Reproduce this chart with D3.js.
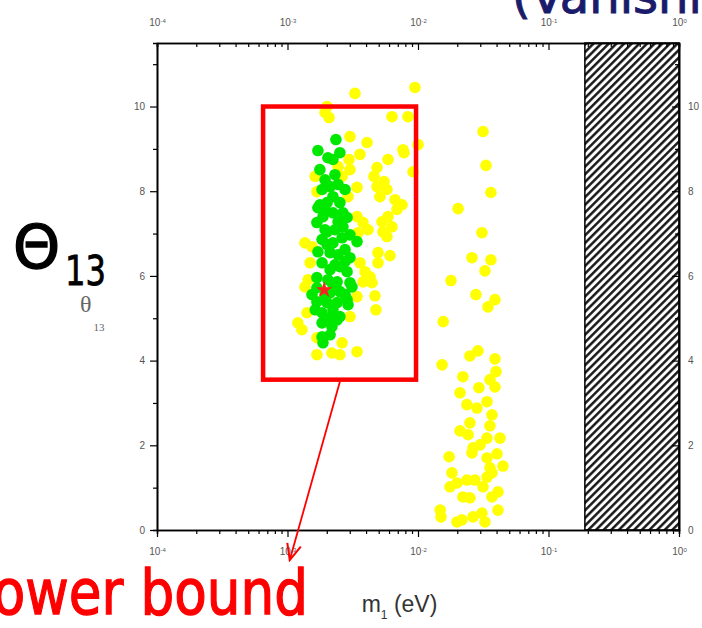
<!DOCTYPE html>
<meta charset="utf-8">
<script src="https://d3js.org/d3.v7.min.js"></script>
<style>
  body { margin: 0; background: #fff; overflow: hidden; }
  svg { display: block; }
</style>

<div id="my_dataviz"></div>

<script>

// m1 (eV) and theta13 (deg) of the allowed points
var yellowM1 = [
  3.29e-3, 9.48e-3, 2.01e-3, 1.94e-3, 2.08e-3, 6.32e-3, 8.38e-3, 3.01e-3, 4.07e-3, 7.67e-3,
  1.00e-2, 7.81e-3, 3.59e-3, 2.96e-3, 3.01e-3, 2.44e-3, 2.62e-3, 5.89e-3, 4.85e-3, 4.60e-3,
  5.49e-3, 9.16e-3, 1.63e-3, 3.41e-3, 4.85e-3, 5.11e-3, 5.78e-3, 1.68e-3, 2.91e-3, 6.67e-3,
  7.54e-3, 6.90e-3, 5.89e-3, 5.30e-3, 6.32e-3, 5.78e-3, 5.39e-3, 3.41e-3, 3.79e-3, 4.14e-3,
  3.47e-3, 1.36e-3, 1.54e-3, 4.94e-3, 6.10e-3, 4.94e-3, 1.49e-3, 3.59e-3, 3.93e-3, 4.29e-3,
  4.44e-3, 3.79e-3, 1.44e-3, 1.36e-3, 4.68e-3, 3.41e-3, 4.76e-3, 3.01e-3, 1.20e-3, 1.29e-3,
  1.41e-3, 1.68e-3, 1.68e-3, 2.19e-3, 2.52e-3, 2.62e-3, 3.41e-3,
  3.15e-2, 3.32e-2, 3.62e-2, 2.03e-2, 3.09e-2, 2.59e-2, 3.62e-2, 3.26e-2, 1.79e-2, 2.78e-2,
  3.89e-2, 3.44e-2, 1.56e-2, 2.50e-2, 2.88e-2, 3.89e-2, 1.53e-2, 2.21e-2, 3.96e-2, 3.56e-2,
  3.89e-2, 2.10e-2, 2.93e-2, 3.38e-2, 2.37e-2, 2.83e-2, 3.69e-2, 2.50e-2, 2.10e-2, 2.42e-2,
  3.56e-2, 4.25e-2, 3.38e-2, 2.64e-2, 2.99e-2, 2.59e-2, 1.73e-2, 4.03e-2, 3.38e-2, 4.48e-2,
  3.56e-2, 1.82e-2, 1.76e-2, 1.99e-2, 2.37e-2, 2.73e-2, 3.15e-2, 3.38e-2, 3.69e-2, 2.21e-2,
  2.50e-2, 4.10e-2, 3.69e-2, 1.48e-2, 1.50e-2, 1.99e-2, 2.17e-2, 2.64e-2, 3.09e-2, 3.26e-2,
  4.10e-2
];
var yellowTheta = [
  10.31, 10.45, 10.00, 9.86, 9.74, 9.76, 9.76, 9.29, 9.15, 8.98,
  9.10, 8.91, 8.87, 8.75, 8.51, 8.58, 8.35, 8.75, 8.56, 8.35,
  8.23, 8.46, 8.35, 8.09, 8.11, 7.87, 8.04, 7.99, 7.87, 7.80,
  7.68, 7.57, 7.40, 7.28, 7.16, 6.93, 7.04, 7.40, 7.26, 7.09,
  7.02, 6.78, 6.69, 6.55, 6.48, 6.31, 6.31, 6.31, 6.10, 5.98,
  5.84, 5.86, 5.91, 5.74, 5.53, 5.51, 5.20, 5.04, 4.89, 4.73,
  5.13, 4.54, 4.14, 4.18, 4.14, 4.42, 4.21,
  9.41, 8.61, 7.97, 7.59, 7.02, 6.43, 6.38, 6.12, 5.89, 5.56,
  5.44, 5.27, 4.92, 4.11, 4.23, 4.04, 3.90, 3.62, 3.74, 3.55,
  3.38, 3.24, 3.36, 3.03, 2.96, 2.88, 2.72, 2.53, 2.34, 2.25,
  2.46, 2.17, 2.17, 1.94, 2.01, 1.82, 1.73, 1.80, 1.70, 1.51,
  1.47, 1.35, 1.02, 1.11, 1.18, 1.18, 1.02, 1.25, 1.35, 0.78,
  0.76, 0.90, 0.78, 0.47, 0.31, 0.19, 0.24, 0.31, 0.40, 0.19,
  0.47
];

var greenM1 = [
  2.35e-3, 1.71e-3, 2.04e-3, 2.52e-3, 2.23e-3, 1.94e-3, 2.12e-3, 1.84e-3, 2.23e-3, 2.01e-3,
  2.52e-3, 1.87e-3, 2.23e-3, 2.66e-3, 2.86e-3, 1.68e-3, 1.94e-3, 2.31e-3, 2.66e-3, 1.84e-3,
  2.23e-3, 2.62e-3, 2.12e-3, 2.44e-3, 3.01e-3, 3.41e-3, 1.84e-3, 2.12e-3, 2.52e-3, 2.86e-3,
  1.68e-3, 2.04e-3, 2.40e-3, 3.01e-3, 3.12e-3, 1.54e-3, 1.68e-3, 2.12e-3, 2.52e-3, 1.68e-3,
  2.01e-3, 2.40e-3, 2.86e-3, 2.91e-3, 1.84e-3, 2.23e-3, 2.52e-3, 1.84e-3, 2.19e-3, 2.40e-3,
  1.84e-3, 2.12e-3, 1.87e-3, 2.01e-3, 2.31e-3, 2.76e-3, 1.94e-3, 2.44e-3, 1.77e-3,
  1.77e-3, 2.31e-3, 2.76e-3, 1.71e-3, 2.44e-3, 1.71e-3, 2.76e-3, 1.94e-3, 2.76e-3, 2.12e-3,
  1.63e-3, 2.23e-3, 2.01e-3, 3.01e-3
];
var greenTheta = [
  9.22, 8.96, 8.79, 8.91, 8.75, 8.27, 8.11, 8.04, 7.87, 7.73,
  7.73, 7.40, 7.49, 7.49, 7.38, 7.26, 7.09, 7.09, 7.16, 6.86,
  6.78, 6.90, 6.55, 6.50, 6.43, 6.81, 6.31, 6.15, 6.22, 6.10,
  5.96, 5.91, 5.86, 5.84, 5.74, 5.56, 5.72, 5.60, 5.63, 5.39,
  5.37, 5.37, 5.44, 5.32, 5.13, 5.20, 5.04, 4.89, 4.80, 4.96,
  4.56, 4.61, 4.42, 6.74, 6.26, 6.62, 7.57, 8.16, 7.68,
  8.51, 8.39, 8.04, 7.61, 7.28, 6.57, 6.34, 5.56, 5.56, 5.01,
  5.20, 5.79, 7.04, 6.97
];

var bestFit = [1.91e-3, 5.67];           // red star
var excludedFrom = 0.19;                 // hatched region, m1 above this
var xDecades = [-4, -3, -2, -1, 0];
var yTicks = [0, 2, 4, 6, 8, 10];
var yMinor = [1, 3, 5, 7, 9, 11];
// highlight box and arrow, in data units
var boxM1 = [6.5e-4, 9.66e-3], boxTheta = [3.55, 10.0];
var arrowFrom = [2.52e-3, 3.5], arrowTo = [1.04e-3, -0.71];

var margin = {top: 43, right: 23, bottom: 98, left: 157},
    width = 702 - margin.left - margin.right,
    height = 628 - margin.top - margin.bottom;

var root = d3.select("#my_dataviz")
  .append("svg")
    .attr("width", 702)
    .attr("height", 628);

var defs = root.append("defs");
var hatch = defs.append("pattern")
    .attr("id", "hatch")
    .attr("patternUnits", "userSpaceOnUse")
    .attr("width", 5.4)
    .attr("height", 5.4)
    .attr("patternTransform", "rotate(45)");
hatch.append("rect").attr("width", 5.4).attr("height", 5.4).attr("fill", "#fff");
hatch.append("line")
    .attr("x1", 1.3).attr("y1", 0).attr("x2", 1.3).attr("y2", 5.4)
    .attr("stroke", "#111").attr("stroke-width", 2.4);

defs.append("marker")
    .attr("id", "arrow")
    .attr("viewBox", "0 0 20 20")
    .attr("refX", 18).attr("refY", 10)
    .attr("markerWidth", 20).attr("markerHeight", 20)
    .attr("markerUnits", "userSpaceOnUse")
    .attr("orient", "auto")
  .append("path")
    .attr("d", "M2,3 L18,10 L2,17")
    .attr("fill", "none")
    .attr("stroke", "red")
    .attr("stroke-width", 2);

var svg = root.append("g")
    .attr("transform", "translate(" + margin.left + "," + margin.top + ")");

var x = d3.scaleLog()
  .domain([1e-4, 1])
  .range([0, width]);
var y = d3.scaleLinear()
  .domain([0, 11.5])
  .range([height, 0]);

var majorX = xDecades.map(function(e){ return Math.pow(10, e); });
var minorX = [];
xDecades.slice(0, -1).forEach(function(e){
  for (var k = 2; k < 10; k++) minorX.push(k * Math.pow(10, e));
});

// hatched excluded band
svg.append("rect")
  .attr("x", x(excludedFrom))
  .attr("y", y(11.5))
  .attr("width", x(1) - x(excludedFrom))
  .attr("height", y(0) - y(11.5))
  .attr("fill", "url(#hatch)")
  .attr("stroke", "#000")
  .attr("stroke-width", 1.5);

// points
svg.append("g")
  .selectAll("circle")
  .data(d3.range(yellowM1.length))
  .enter().append("circle")
    .attr("cx", function(i){ return x(yellowM1[i]); })
    .attr("cy", function(i){ return y(yellowTheta[i]); })
    .attr("r", 5.8)
    .attr("fill", "#ffff00");

svg.append("g")
  .selectAll("circle")
  .data(d3.range(greenM1.length))
  .enter().append("circle")
    .attr("cx", function(i){ return x(greenM1[i]); })
    .attr("cy", function(i){ return y(greenTheta[i]); })
    .attr("r", 5.8)
    .attr("fill", "#00e800");

svg.append("path")
  .attr("d", d3.symbol().type(d3.symbolStar).size(85)())
  .attr("transform", "translate(" + x(bestFit[0]) + "," + y(bestFit[1]) + ")")
  .attr("fill", "#ff2020");

// axes
function styleAxis(g) {
  g.select(".domain").attr("stroke", "#000").attr("stroke-width", 1.6);
  g.selectAll(".tick line").attr("stroke", "#000").attr("stroke-width", 1.2);
  g.selectAll(".tick text").attr("fill", "#555")
    .attr("font-family", "Liberation Sans, Arial, sans-serif").attr("font-size", 10);
}
function powLabels(g) {
  g.selectAll(".tick text").each(function(d){
    var t = d3.select(this);
    var e = Math.round(Math.log10(d));
    t.append("tspan").text("10");
    t.append("tspan").attr("dy", "-0.55em").attr("font-size", 6)
      .text(e === 0 ? "0" : "-" + Math.abs(e));
  });
}

// bottom
svg.append("g")
  .attr("transform", "translate(0," + height + ")")
  .call(d3.axisBottom(x).tickValues(minorX).tickSize(4).tickFormat(""))
  .call(styleAxis);
svg.append("g")
  .attr("transform", "translate(0," + height + ")")
  .call(d3.axisBottom(x).tickValues(majorX).tickSize(7).tickSizeOuter(0).tickPadding(11).tickFormat(""))
  .call(styleAxis).call(powLabels);

// top, ticks inward
svg.append("g")
  .call(d3.axisTop(x).tickValues(minorX).tickSize(-4).tickFormat(""))
  .call(styleAxis);
svg.append("g")
  .call(d3.axisTop(x).tickValues(majorX).tickSize(-7).tickSizeOuter(0).tickPadding(17).tickFormat(""))
  .call(styleAxis).call(powLabels);

// left
svg.append("g")
  .call(d3.axisLeft(y).tickValues(yMinor).tickSize(4).tickFormat(""))
  .call(styleAxis);
svg.append("g")
  .call(d3.axisLeft(y).tickValues(yTicks).tickSize(7).tickSizeOuter(0).tickPadding(5))
  .call(styleAxis);

// right, ticks inward
svg.append("g")
  .attr("transform", "translate(" + width + ",0)")
  .call(d3.axisRight(y).tickValues(yMinor).tickSize(-4).tickFormat(""))
  .call(styleAxis);
svg.append("g")
  .attr("transform", "translate(" + width + ",0)")
  .call(d3.axisRight(y).tickValues(yTicks).tickSize(-7).tickSizeOuter(0).tickPadding(9))
  .call(styleAxis);

// axis titles
var xt = svg.append("text")
  .attr("x", x(3.7e-3))
  .attr("y", height + 82)
  .attr("font-family", "Liberation Sans, Arial, sans-serif")
  .attr("font-size", 23)
  .attr("fill", "#333");
xt.append("tspan").text("m");
xt.append("tspan").attr("dy", 7).attr("font-size", 12).text("1");
xt.append("tspan").attr("dy", -7).text(" (eV)");

var yt = root.append("text")
  .attr("x", 80)
  .attr("y", 312)
  .attr("font-family", "Liberation Serif, Times New Roman, serif")
  .attr("font-size", 24)
  .attr("fill", "#666");
yt.append("tspan").text("\u03b8");
yt.append("tspan").attr("dy", 19).attr("dx", 2).attr("font-size", 11).text("13");

// slide annotations
root.append("text")
  .attr("x", 13)
  .attr("y", 268)
  .attr("font-family", "DejaVu Sans, sans-serif")
  .attr("font-size", 60)
  .attr("stroke", "#000")
  .attr("stroke-width", 1.4)
  .attr("fill", "#000")
  .text("\u0398");
root.append("text")
  .attr("x", 65)
  .attr("y", 285)
  .attr("font-family", "DejaVu Sans, sans-serif")
  .attr("font-size", 40)
  .attr("textLength", 41)
  .attr("lengthAdjust", "spacingAndGlyphs")
  .attr("stroke", "#000")
  .attr("stroke-width", 0.8)
  .attr("fill", "#000")
  .text("13");

root.append("text")
  .attr("x", 512)
  .attr("y", 13)
  .attr("font-family", "DejaVu Sans, sans-serif")
  .attr("font-size", 48)
  .attr("stroke", "#1b1b6b")
  .attr("stroke-width", 1)
  .attr("fill", "#1b1b6b")
  .text("(Vanishing");

root.append("text")
  .attr("x", -36)
  .attr("y", 614)
  .attr("font-family", "DejaVu Sans, sans-serif")
  .attr("font-size", 62)
  .attr("textLength", 344)
  .attr("lengthAdjust", "spacingAndGlyphs")
  .attr("stroke", "red")
  .attr("stroke-width", 1.3)
  .attr("fill", "red")
  .text("Lower bound");

svg.append("rect")
  .attr("x", x(boxM1[0]))
  .attr("y", y(boxTheta[1]))
  .attr("width", x(boxM1[1]) - x(boxM1[0]))
  .attr("height", y(boxTheta[0]) - y(boxTheta[1]))
  .attr("fill", "none")
  .attr("stroke", "red")
  .attr("stroke-width", 4.5);

svg.append("line")
  .attr("x1", x(arrowFrom[0])).attr("y1", y(arrowFrom[1]))
  .attr("x2", x(arrowTo[0])).attr("y2", y(arrowTo[1]))
  .attr("stroke", "red")
  .attr("stroke-width", 1.8)
  .attr("marker-end", "url(#arrow)");

</script>
